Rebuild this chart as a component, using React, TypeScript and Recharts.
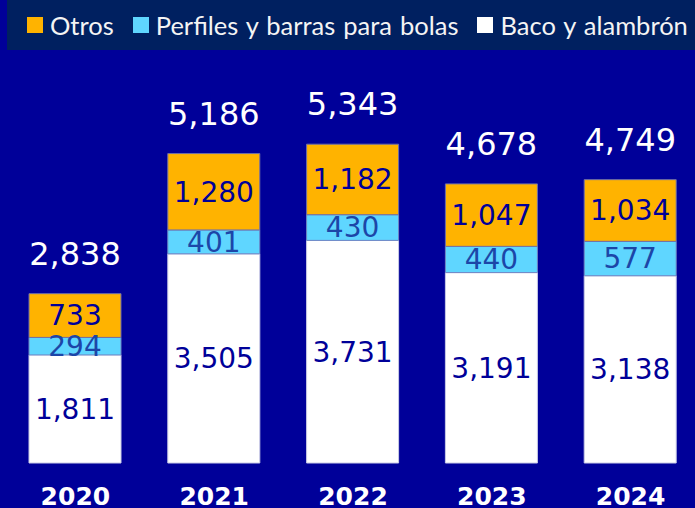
import React from "react"
import { BarChart, Bar, XAxis, YAxis, Legend, LabelList } from "recharts"

// values
const years = ["2020", "2021", "2022", "2023", "2024"]
const baco = [1811, 3505, 3731, 3191, 3138]
const perfiles = [294, 401, 430, 440, 577]
const otros = [733, 1280, 1182, 1047, 1034]
const totals = [2838, 5186, 5343, 4678, 4749]

const seriesNames = ["Otros", "Perfiles y barras para bolas", "Baco y alambrón"]
const seriesColors = ["#ffb300", "#5fd6ff", "#ffffff"]

const data = years.map((year, i) => ({
  year,
  baco: baco[i],
  perfiles: perfiles[i],
  otros: otros[i],
  total: totals[i],
}))

const NAVY = "#000099"
const fmt = (v: any) => Number(v).toLocaleString("en-US")

const LegendBox = () => (
  <div
    style={{
      height: 50,
      width: 688,
      background: "#002060",
      display: "flex",
      alignItems: "center",
      paddingLeft: 20,
      boxSizing: "border-box",
      fontFamily: "Lato, sans-serif",
      fontSize: 25.5,
      wordSpacing: 1.5,
      color: "#f4f4f4",
      whiteSpace: "nowrap",
    }}
  >
    {seriesNames.map((name, i) => (
      <div key={name} style={{ display: "flex", alignItems: "center", marginRight: 19, flexShrink: 0 }}>
        <span style={{ width: 16, height: 16, background: seriesColors[i], marginRight: 7, display: "inline-block" }} />
        <span style={{ lineHeight: "26px" }}>{name}</span>
      </div>
    ))}
  </div>
)

const TotalLabel = (props: any) => {
  const { x, y, width, value } = props
  return (
    <text
      x={x + width / 2}
      y={y - 40}
      textAnchor="middle"
      dominantBaseline="central"
      fill="#ffffff"
      fontFamily="DejaVu Sans"
      fontSize={32}
    >
      {fmt(value)}
    </text>
  )
}

export default function App() {
  return (
    <div
      style={{
        position: "absolute",
        left: 0,
        top: 0,
        width: 695,
        height: 508,
        overflow: "hidden",
        background: NAVY,
      }}
    >
      <BarChart
        width={700}
        height={508}
        data={data}
        margin={{ top: 55, right: 0, left: 6, bottom: 0 }}
      >
        <XAxis
          dataKey="year"
          axisLine={false}
          tickLine={false}
          tickSize={0}
          tickMargin={24}
          height={45}
          interval={0}
          tick={{ fill: "#ffffff", fontSize: 25, fontWeight: 700, fontFamily: "DejaVu Sans" }}
        />
        <YAxis hide domain={[0, 6000]} />
        <Legend
          verticalAlign="top"
          content={<LegendBox />}
          wrapperStyle={{ top: 0, left: 7, width: 688 }}
        />
        <Bar dataKey="baco" name={seriesNames[2]} stackId="a" fill={seriesColors[2]} stroke="#c9cbe6" strokeWidth={1} barSize={92} isAnimationActive={false}>
          <LabelList dataKey="baco" position="center" formatter={fmt} fill={NAVY} fontSize={28} fontFamily="DejaVu Sans" />
        </Bar>
        <Bar dataKey="perfiles" name={seriesNames[1]} stackId="a" fill={seriesColors[1]} stroke="#6f86c4" strokeWidth={1} barSize={92} isAnimationActive={false}>
          <LabelList dataKey="perfiles" position="center" formatter={fmt} fill="#1c46a8" fontSize={28} fontFamily="DejaVu Sans" />
        </Bar>
        <Bar dataKey="otros" name={seriesNames[0]} stackId="a" fill={seriesColors[0]} stroke="#6f6fa8" strokeWidth={1} barSize={92} isAnimationActive={false}>
          <LabelList dataKey="otros" position="center" formatter={fmt} fill={NAVY} fontSize={28} fontFamily="DejaVu Sans" />
          <LabelList dataKey="total" content={<TotalLabel />} />
        </Bar>
      </BarChart>
    </div>
  )
}
